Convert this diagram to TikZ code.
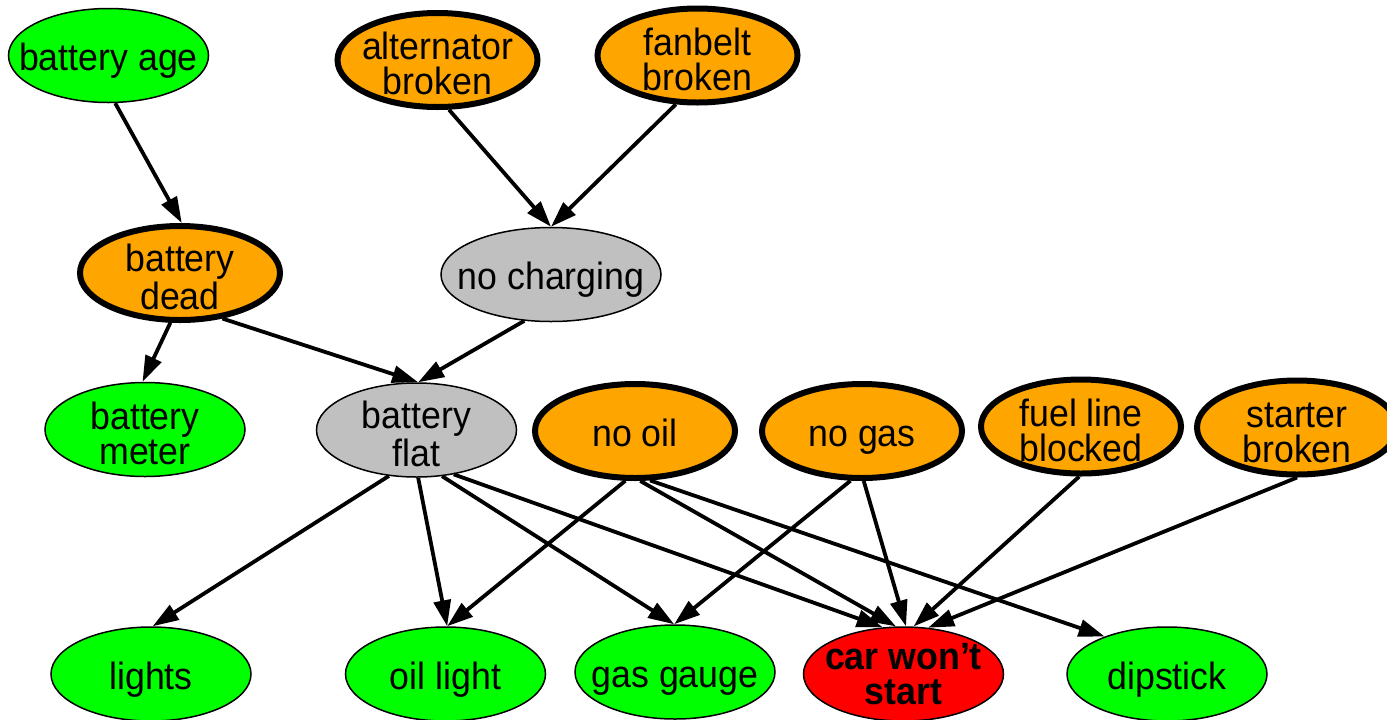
\documentclass[tikz,border=0pt]{standalone}
\usepackage{fontspec}
\setmainfont[FakeStretch=0.94]{Liberation Sans}
\usetikzlibrary{shapes.geometric,arrows.meta}
\definecolor{ngreen}{RGB}{0,255,0}
\definecolor{norange}{RGB}{255,165,0}
\definecolor{ngray}{RGB}{192,192,192}
\definecolor{nred}{RGB}{255,0,0}
\begin{document}
\begin{tikzpicture}[x=0.5pt,y=-0.5pt,
  base/.style={ellipse, draw=black, inner xsep=-45pt, inner ysep=-25pt, minimum width=100pt, minimum height=47pt,
    font=\fontsize{19}{17.5}\selectfont, align=center},
  obs/.style={base, fill=ngreen, line width=0.75pt},
  hid/.style={base, fill=ngray, line width=0.75pt},
  root/.style={base, fill=norange, line width=3pt, minimum width=100pt, minimum height=47pt},
  goal/.style={base, fill=nred, line width=0.75pt, font=\fontsize{19}{17.5}\selectfont\bfseries},
  one/.style={text height=15pt, text depth=0pt},
  arr/.style={-{Triangle[length=13pt,width=8.5pt]}, line width=1.9pt}
]
\clip (0,0) rectangle (1387,719);
\fill[white] (0,0) rectangle (1387,719);
% nodes
\node[obs,one] (ba) at (108.5,55.5) {battery age};
\node[root] (al) at (437.5,60) {\rule{0pt}{17.5pt}alternator\\broken};
\node[root] (fb) at (697.5,55.5) {\rule{0pt}{17.5pt}fanbelt\\broken};
\node[root] (bd) at (180,273) {\rule{0pt}{17.5pt}battery\\dead};
\node[hid,one,minimum width=110pt] (nc) at (551,274.5) {no charging};
\node[obs] (bm) at (145,429.5) {\rule{0pt}{17.5pt}battery\\meter};
\node[hid] (bf) at (416.5,430) {\rule{0pt}{17.5pt}battery\\flat};
\node[root,one] (no) at (635,431) {no oil};
\node[root,one] (ng) at (862,431) {no gas};
\node[root] (fl) at (1081,426.5) {\rule{0pt}{17.5pt}fuel line\\blocked};
\node[root] (sb) at (1297,427.5) {\rule{0pt}{17.5pt}starter\\broken};
\node[obs,one] (li) at (151,674) {lights};
\node[obs,one] (ol) at (445.5,674) {oil light};
\node[obs,one] (gg) at (675,672) {gas gauge};
\node[goal] (cw) at (903.5,674) {car won’t\\start};
\node[obs,one] (dp) at (1167,674) {dipstick};
% edges
\draw[arr] (ba.-82) -- (bd.88);
\draw[arr] (al.-77) -- (nc.90);
\draw[arr] (fb.-114) -- (nc.90);
\draw[arr] (bd.-101) -- (bm.93);
\draw[arr] (bd.-47) -- (bf.88);
\draw[arr] (nc.-120) -- (bf.88);
\draw[arr] (bf.-121) -- (li.88);
\draw[arr] (bf.-88) -- (ol.88);
\draw[arr] (bf.-61) -- (gg.91);
\draw[arr] (bf.-50) -- (cw.114);
\draw[arr] (no.-101) -- (ol.88);
\draw[arr] (no.-84) -- (cw.99);
\draw[arr] (no.-73) -- (dp.149);
\draw[arr] (ng.-103) -- (gg.91);
\draw[arr] (ng.-88) -- (cw.87);
\draw[arr] (fl.-92) -- (cw.78);
\draw[arr] (sb.-90) -- (cw.62);
\end{tikzpicture}
\end{document}
